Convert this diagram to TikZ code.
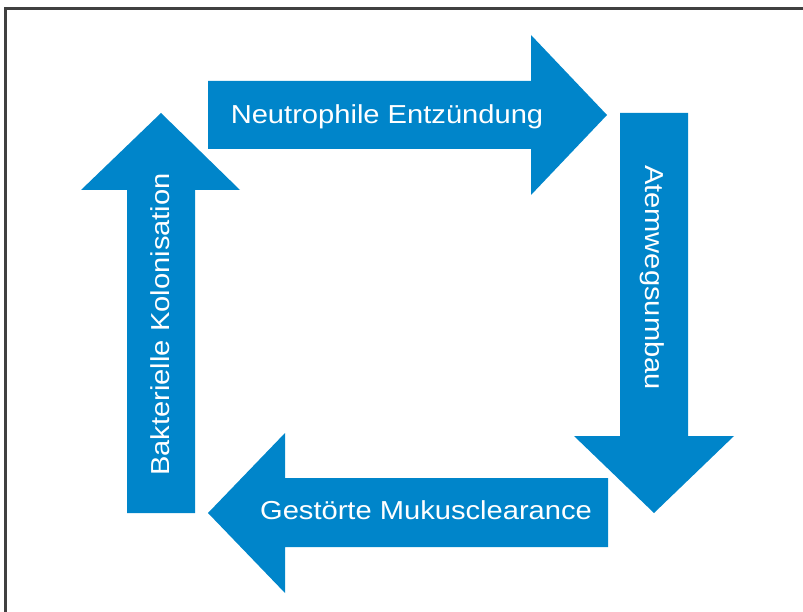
\documentclass[tikz,border=0pt]{standalone}
\usepackage{fontspec}
\setmainfont{Liberation Sans}
\newfontfamily\labelfont[FakeStretch=1.12]{Liberation Sans}
\usepackage{tikz}
\usetikzlibrary{positioning}
\definecolor{cycleBlue}{RGB}{0,133,202}
\tikzset{CycleArrow/.style={%
    fill=cycleBlue,%
    draw=none,%
}}
\tikzset{CycleLabel/.style={%
    text=white,%
    font=\labelfont\fontsize{26}{30}\selectfont,%
    inner sep=0pt,%
    anchor=base,%
}}
\tikzset{Frame/.style={%
    draw=black!75,%
    line width=2.2pt,%
}}

\begin{document}
\begin{tikzpicture}[x=1pt, y=-1pt]
    \useasboundingbox (0,0) rectangle (803,612);
    \draw[Frame] (5.5,612) -- (5.5,8.5) -- (803,8.5);

    % top, pointing right
    \fill[CycleArrow] (208,81) -- (531,81) -- (531,35) -- (607,115)
        -- (531,195) -- (531,149) -- (208,149) -- cycle;
    % right, pointing down
    \fill[CycleArrow] (620,113) -- (620,436) -- (574,436) -- (654,513)
        -- (734,436) -- (688,436) -- (688,113) -- cycle;
    % bottom, pointing left
    \fill[CycleArrow] (608,478) -- (285,478) -- (285,433) -- (208,513)
        -- (285,593) -- (285,547) -- (608,547) -- cycle;
    % left, pointing up
    \fill[CycleArrow] (195,513) -- (195,190) -- (240,190) -- (161,113)
        -- (81,190) -- (127,190) -- (127,513) -- cycle;

    \node[CycleLabel] (entz) at (387,123.5) {Neutrophile Entzündung};
    \node[CycleLabel, rotate=-90] (umbau) at (645.5,277.5) {Atemwegsumbau};
    \node[CycleLabel] (mukus) at (426,519) {Gestörte Mukusclearance};
    \node[CycleLabel, rotate=90] (kolon) at (169.5,324.5) {Bakterielle Kolonisation};
\end{tikzpicture}
\end{document}
